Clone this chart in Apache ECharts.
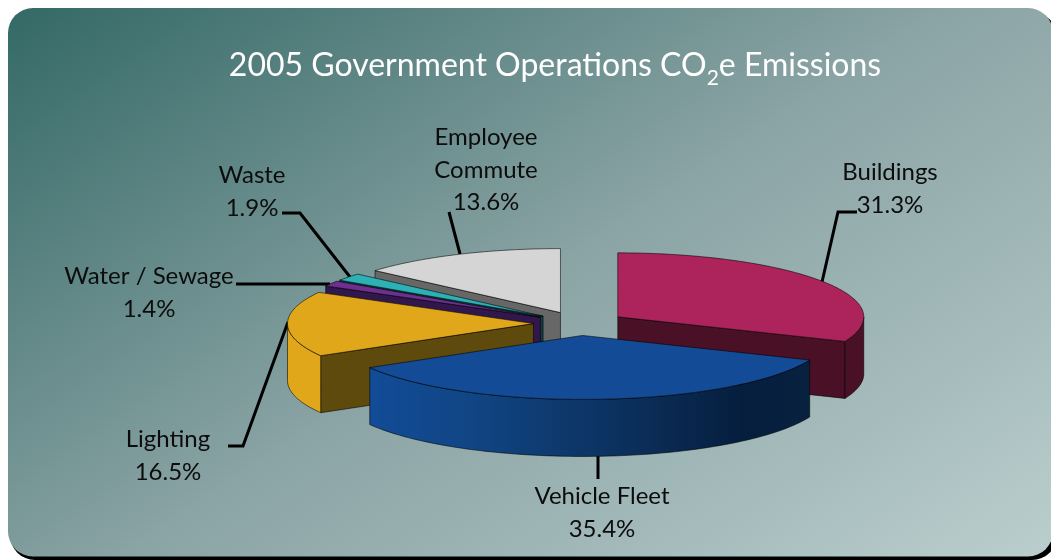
<!DOCTYPE html>
<html><head><meta charset="utf-8">
<style>html,body{margin:0;padding:0;background:#fff}#c{width:1051px;height:560px}</style>
<script src="https://cdn.jsdelivr.net/npm/echarts@6/dist/echarts.min.js"></script>
</head><body><div id="c"></div>
<script>
const categories = ['Buildings','Vehicle Fleet','Lighting','Water / Sewage','Waste','Employee\nCommute'];
const shares = [31.3,35.4,16.5,1.4,1.9,13.6];
const topColors = ['#ad245c','#134b96','#e0a71a','#6e2f8e','#2cb1b4','#d5d5d5'];
const wallColors = ['#4a1026','#0d3568','#5f4a0e','#31174b','#0d3d40','#676767'];
const drawOrder = [0,5,4,3,2,1];

// layout of the projected pie
const C = {x:579.5,y:323.5,rx:246,ry:64,depth:57,explode:0.187};
const total = shares.reduce((a,b)=>a+b,0);
const wedges = []; let acc = 0;
shares.forEach(v=>{const a0=acc/total*2*Math.PI; acc+=v; const a1=acc/total*2*Math.PI; const m=(a0+a1)/2;
  wedges.push({a0,a1,ax:C.x+C.explode*C.rx*Math.sin(m),ay:C.y-C.explode*C.ry*Math.cos(m)});});
const rim=(w,t)=>[w.ax+C.rx*Math.sin(t),w.ay-C.ry*Math.cos(t)];
const down=p=>[p[0],p[1]+C.depth];
function arc(w,a,b){const n=Math.max(2,Math.ceil(Math.abs(b-a)/0.02));const r=[];for(let i=0;i<=n;i++)r.push(rim(w,a+(b-a)*i/n));return r;}
const poly=(pts,fill,stroke,z)=>({type:'polygon',z2:z,shape:{points:pts},style:{fill,stroke,lineWidth:0.8,lineJoin:'round'}});
const edge='rgba(0,0,0,0.7)';
const fleetGrad={type:'linear',global:true,x:370,y:0,x2:808,y2:0,colorStops:[{offset:0,color:'#124b97'},{offset:0.2,color:'#114787'},{offset:0.55,color:'#0c3260'},{offset:0.85,color:'#061e3e'},{offset:1,color:'#07213f'}]};

function renderWedge(params,api){
  const i=api.value(0); const w=wedges[i];
  const ch=[]; const apex=[w.ax,w.ay]; const s=rim(w,w.a0), e=rim(w,w.a1);
  if(i===0){ch.push(poly([apex,e,down(e),down(apex)],wallColors[i],edge,1));}
  if(i>=2){ch.push(poly([apex,s,down(s),down(apex)],wallColors[i],edge,1));}
  const fa=Math.max(w.a0,Math.PI/2), fb=Math.min(w.a1,3*Math.PI/2);
  if(fb>fa){const top=arc(w,fa,fb);const bot=top.map(down).reverse();
    const fill=i===1?fleetGrad:(i===2?topColors[2]:wallColors[i]);
    ch.push(poly(top.concat(bot),fill,edge,2));}
  ch.push(poly([apex].concat(arc(w,w.a0,w.a1)),topColors[i],edge,3));
  return {type:'group',children:ch};
}

const labelLayout=[
 {x:890,y:189,line:[[822,282],[838,212],[857,212]]},
 {x:602,y:513,line:[[598,456],[598,479]]},
 {x:168,y:456,line:[[288,322],[243,446],[228,446]]},
 {x:149,y:293,line:[[330,284],[236,284]]},
 {x:252,y:192,line:[[350,277],[300,213],[282,213]]},
 {x:486,y:170,line:[[460,254],[449,212]]}
];
const graphics=[
 {type:'rect',z:-3,silent:true,shape:{x:10,y:12,width:1047,height:548,r:25},style:{fill:'#000'}},
 {type:'rect',z:-2,silent:true,shape:{x:8,y:8,width:1045,height:548.5,r:25},style:{fill:{type:'linear',global:true,x:8,y:8,x2:582,y2:869,colorStops:[{offset:0,color:'#336966'},{offset:0.5,color:'#8aa3a4'},{offset:1,color:'#bacecd'}]}}}
];
categories.forEach((n,i)=>{const L=labelLayout[i];
 graphics.push({type:'polyline',z:1,silent:true,shape:{points:L.line},style:{stroke:'#000',lineWidth:3,fill:null}});
 graphics.push({type:'text',z:5,silent:true,x:L.x,y:L.y,style:{text:n+'\n'+shares[i].toFixed(1)+'%',font:'24px Lato',lineHeight:32.5,fill:'#0c0c0c',align:'center',verticalAlign:'middle'}});
});

const chart=echarts.init(document.getElementById('c'),null,{renderer:'canvas'});
chart.setOption({
 animation:false,
 title:{left:550,top:41,textAlign:'center',text:'{m|2005 Government Operations CO}{s|2}{m|e Emissions}',
  textStyle:{fontWeight:'normal',rich:{m:{fontFamily:'Lato',fontWeight:'normal',fontSize:32,color:'#fff',lineHeight:40},s:{fontFamily:'Lato',fontWeight:'normal',fontSize:21,color:'#fff',lineHeight:40,padding:[24,0,0,0]}}}},
 graphic:graphics,
 series:[{type:'custom',coordinateSystem:'none',silent:true,z:3,renderItem:renderWedge,data:drawOrder.map(i=>[i,shares[i]])}]
});
</script></body></html>
